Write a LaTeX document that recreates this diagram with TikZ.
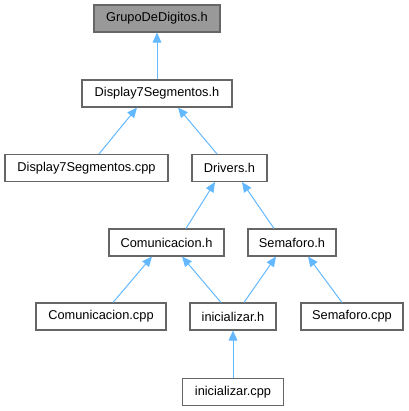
\documentclass[tikz,border=0pt]{standalone}
\usepackage{fontspec}
\setmainfont{Liberation Sans}
\usetikzlibrary{arrows.meta}
\definecolor{edgec}{HTML}{63B8FF}
\definecolor{boxc}{HTML}{666666}
\definecolor{rootc}{HTML}{999999}
\begin{document}
\begin{tikzpicture}[x=0.75pt,y=-0.75pt,
  fbox/.style={draw=boxc,line width=0.8pt,fill=white,rectangle,inner sep=0pt,minimum height=27*0.75pt,font=\fontsize{9.6}{11}\selectfont},
  edge/.style={draw=edgec,line width=0.75pt,{Triangle[length=7.5pt,width=6.5pt,fill=edgec]}-}]
\useasboundingbox (0,0) rectangle (409,411);
\node[fbox,fill=rootc,minimum width=126*0.75pt] (g) at (157,18.5) {GrupoDeDigitos.h};
\node[fbox,minimum width=150*0.75pt] (dh) at (157,93.5) {Display7Segmentos.h};
\node[fbox,minimum width=163*0.75pt] (dcpp) at (86.5,168) {Display7Segmentos.cpp};
\node[fbox,minimum width=75*0.75pt] (drv) at (229.5,168) {Drivers.h};
\node[fbox,minimum width=115*0.75pt] (comh) at (166.5,242.5) {Comunicacion.h};
\node[fbox,minimum width=88*0.75pt] (semh) at (292,242.5) {Semaforo.h};
\node[fbox,minimum width=130*0.75pt] (comcpp) at (101,316.5) {Comunicacion.cpp};
\node[fbox,minimum width=86*0.75pt] (inih) at (233,316.5) {inicializar.h};
\node[fbox,minimum width=102*0.75pt] (semcpp) at (352,316.5) {Semaforo.cpp};
\node[fbox,minimum width=101*0.75pt] (inicpp) at (233,392) {inicializar.cpp};
\draw[edge] (g.south) -- (dh.north);
\draw[edge] ([xshift=-20*0.75pt]dh.south) -- ([xshift=12.5*0.75pt]dcpp.north);
\draw[edge] ([xshift=21*0.75pt]dh.south) -- ([xshift=-12.5*0.75pt]drv.north);
\draw[edge] ([xshift=-14.5*0.75pt]drv.south) -- ([xshift=19.5*0.75pt]comh.north);
\draw[edge] ([xshift=12.5*0.75pt]drv.south) -- ([xshift=-18*0.75pt]semh.north);
\draw[edge] ([xshift=-14.5*0.75pt]comh.south) -- ([xshift=12*0.75pt]comcpp.north);
\draw[edge] ([xshift=15.5*0.75pt]comh.south) -- ([xshift=-12*0.75pt]inih.north);
\draw[edge] ([xshift=-16*0.75pt]semh.south) -- ([xshift=11*0.75pt]inih.north);
\draw[edge] ([xshift=16*0.75pt]semh.south) -- ([xshift=-10*0.75pt]semcpp.north);
\draw[edge] (inih.south) -- (inicpp.north);
\end{tikzpicture}
\end{document}
